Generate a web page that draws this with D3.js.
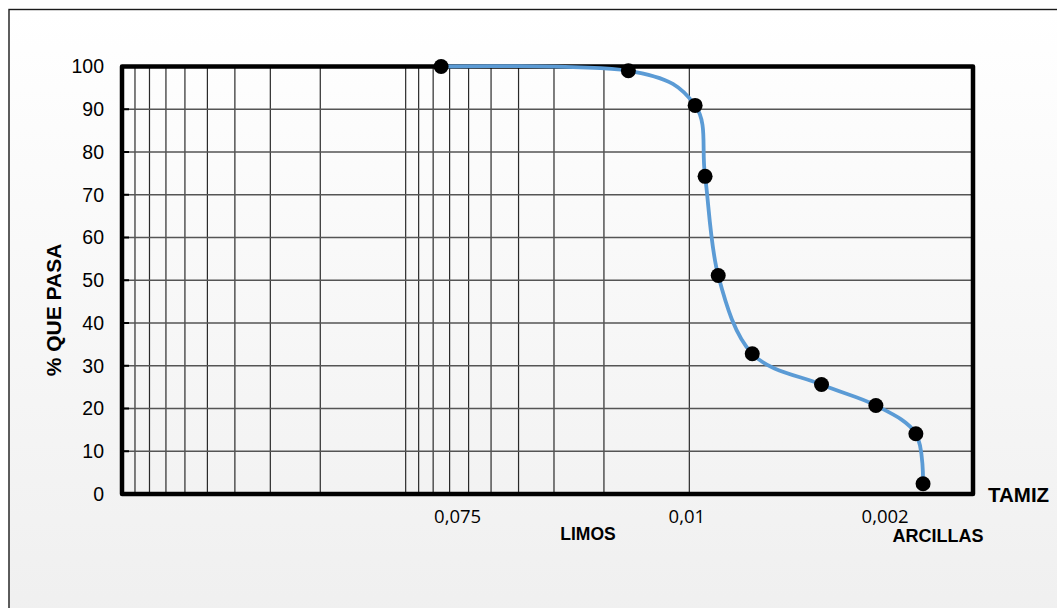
<!DOCTYPE html>
<html>
<head>
<meta charset="utf-8">
<script src="https://cdn.jsdelivr.net/npm/d3@7"></script>
<style>
  html, body { margin: 0; padding: 0; background: #ffffff; }
  svg { display: block; }
</style>
</head>
<body>
<svg id="chart" width="1057" height="608"></svg>
<script>
// Granulometric curve: grain diameter (mm, reversed log axis) vs. % passing
const diameters = [0.075, 0.0164, 0.00954, 0.0088, 0.00791, 0.006, 0.00342, 0.0022, 0.00159, 0.0015];
const percentPassing = [100, 99.0, 90.9, 74.3, 51.1, 32.8, 25.6, 20.7, 14.1, 2.4];

const xTickValues = [0.075, 0.01, 0.002];
const xTickLabels = ["0,075", "0,01", "0,002"];
const yTickValues = [0, 10, 20, 30, 40, 50, 60, 70, 80, 90, 100];

const xDomain = [1, 0.001];
const yDomain = [0, 100];

const svg = d3.select("#chart");
const W = 1057, H = 608;
const plot = { left: 122, right: 973, top: 66.5, bottom: 494 };

// Background panel with soft vertical gradient
const defs = svg.append("defs");
const grad = defs.append("linearGradient")
  .attr("id", "bg").attr("x1", 0).attr("y1", 0).attr("x2", 0).attr("y2", 1);
grad.append("stop").attr("offset", "0%").attr("stop-color", "#ffffff");
grad.append("stop").attr("offset", "100%").attr("stop-color", "#efefef");

svg.append("rect")
  .attr("x", 9).attr("y", 9.5)
  .attr("width", W + 20).attr("height", H + 20)
  .attr("fill", "url(#bg)")
  .attr("stroke", "#1a1a1a").attr("stroke-width", 1.4);

const x = d3.scaleLog().domain(xDomain).range([plot.left, plot.right]);
const y = d3.scaleLinear().domain(yDomain).range([plot.bottom, plot.top]);

// Log grid: 1..9 within each decade
const gridX = [];
[1, 0.1, 0.01].forEach(dec => {
  for (let k = 1; k <= 9; k++) {
    const v = dec * k / 10 * 10;
    if (v <= 1 && v > 0.001) gridX.push(v);
  }
});
const gridY = yTickValues.filter(v => v > 0 && v < 100);

const grid = svg.append("g");
grid.selectAll("line.vx").data(gridX).join("line")
  .attr("x1", d => x(d)).attr("x2", d => x(d))
  .attr("y1", plot.top).attr("y2", plot.bottom)
  .attr("stroke", "#2a2a2a").attr("stroke-width", 1.2);
grid.selectAll("line.hy").data(gridY).join("line")
  .attr("x1", plot.left).attr("x2", plot.right)
  .attr("y1", d => y(d)).attr("y2", d => y(d))
  .attr("stroke", "#555555").attr("stroke-width", 1.4);

// Inner ticks on the left axis
svg.append("g").selectAll("line").data(gridY).join("line")
  .attr("x1", plot.left).attr("x2", plot.left + 7)
  .attr("y1", d => y(d)).attr("y2", d => y(d))
  .attr("stroke", "#000").attr("stroke-width", 2);

// Plot frame
svg.append("rect")
  .attr("x", plot.left).attr("y", plot.top)
  .attr("width", plot.right - plot.left).attr("height", plot.bottom - plot.top)
  .attr("fill", "none").attr("stroke", "#000")
  .attr("stroke-width", 4.5).attr("stroke-linejoin", "round");

// Y axis labels
const yAxis = d3.axisLeft(y).tickValues(yTickValues).tickSize(0).tickPadding(18);
const gy = svg.append("g").attr("transform", `translate(${plot.left},0)`).call(yAxis);
gy.select(".domain").remove();
gy.selectAll("text")
  .attr("font-family", "'Liberation Sans', Arial, sans-serif")
  .attr("font-size", 19.5).attr("fill", "#000");

// X axis labels
const labelOf = new Map(xTickValues.map((v, i) => [v, xTickLabels[i]]));
const xAxis = d3.axisBottom(x).tickValues(xTickValues)
  .tickFormat(d => labelOf.get(d)).tickSize(0).tickPadding(16);
const gx = svg.append("g").attr("transform", `translate(0,${plot.bottom})`).call(xAxis);
gx.select(".domain").remove();
gx.selectAll("text")
  .attr("font-family", "'Open Sans', sans-serif")
  .attr("font-size", 18.5).attr("fill", "#000")
  .attr("dx", d => d === 0.075 ? 16 : -3);

// Titles
const bold = "'Liberation Sans', Arial, sans-serif";
svg.append("text")
  .attr("transform", "translate(61,310) rotate(-90)")
  .attr("text-anchor", "middle")
  .attr("font-family", bold).attr("font-weight", "bold").attr("font-size", 21)
  .text("% QUE PASA");
svg.append("text")
  .attr("x", 988).attr("y", 502)
  .attr("font-family", bold).attr("font-weight", "bold").attr("font-size", 20.5)
  .text("TAMIZ");
svg.append("text")
  .attr("x", 588).attr("y", 540).attr("text-anchor", "middle")
  .attr("font-family", bold).attr("font-weight", "bold").attr("font-size", 17.5)
  .text("LIMOS");
svg.append("text")
  .attr("x", 938).attr("y", 542).attr("text-anchor", "middle")
  .attr("font-family", bold).attr("font-weight", "bold").attr("font-size", 18)
  .text("ARCILLAS");

// Curve and points
const pts = diameters.map((d, i) => [d, percentPassing[i]]);
const line = d3.line()
  .x(d => x(d[0])).y(d => y(d[1]))
  .curve(d3.curveCardinal.tension(0));
svg.append("path")
  .datum(pts)
  .attr("d", line)
  .attr("fill", "none")
  .attr("stroke", "#5b9bd5")
  .attr("stroke-width", 3.8);

svg.append("g").selectAll("circle").data(pts).join("circle")
  .attr("cx", d => x(d[0])).attr("cy", d => y(d[1]))
  .attr("r", 7.5).attr("fill", "#000");
</script>
</body>
</html>
